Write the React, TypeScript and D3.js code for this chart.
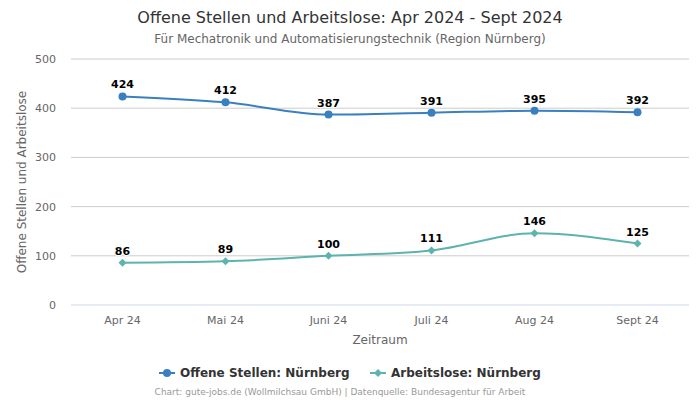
import React from "react";
import * as d3 from "d3";

const categories = ["Apr 24", "Mai 24", "Juni 24", "Juli 24", "Aug 24", "Sept 24"];
const offeneStellen = [424, 412, 387, 391, 395, 392];
const arbeitslose = [86, 89, 100, 111, 146, 125];
const yTicks = [0, 100, 200, 300, 400, 500];

const W = 700, H = 400;
const left = 71, right = 689, top = 59, bottom = 305;
const FONT = "DejaVu Sans, sans-serif";
const BLUE = "#3a80c0";
const TEAL = "#5db3ad";

export default function App() {
  const x = d3.scaleBand<string>().domain(categories).range([left, right]);
  const y = d3.scaleLinear().domain([0, 500]).range([bottom, top]);
  const cx = (c: string) => (x(c) as number) + x.bandwidth() / 2;
  const line = d3
    .line<number>()
    .x((_, i) => cx(categories[i]))
    .y((d) => y(d))
    .curve(d3.curveMonotoneX);

  const diamond = (px: number, py: number, r = 4) =>
    `M${px},${py - r}L${px + r},${py}L${px},${py + r}L${px - r},${py}Z`;

  return (
    <svg width={W} height={H} style={{ position: "absolute", left: 0, top: 0 }} fontFamily={FONT}>
      <rect width={W} height={H} fill="#fff" />
      <text x={350} y={23} textAnchor="middle" fontSize={16} fill="#333">
        Offene Stellen und Arbeitslose: Apr 2024 - Sept 2024
      </text>
      <text x={350} y={43} textAnchor="middle" fontSize={12} fill="#666">
        Für Mechatronik und Automatisierungstechnik (Region Nürnberg)
      </text>
      {yTicks.map((t) => (
        <g key={t}>
          <line x1={left} x2={right} y1={y(t)} y2={y(t)} stroke={t === 0 ? "#ccd6eb" : "#cccccc"} strokeWidth={1} />
          <text x={56} y={y(t) + 4} textAnchor="end" fontSize={11} fill="#666">
            {t}
          </text>
        </g>
      ))}
      {categories.map((c) => (
        <text key={c} x={cx(c)} y={324} textAnchor="middle" fontSize={11} fill="#666">
          {c}
        </text>
      ))}
      <text x={380} y={344} textAnchor="middle" fontSize={12} fill="#666">
        Zeitraum
      </text>
      <text transform={`translate(26,${(top + bottom) / 2}) rotate(-90)`} textAnchor="middle" fontSize={12} fill="#666">
        Offene Stellen und Arbeitslose
      </text>

      <path d={line(offeneStellen) || ""} fill="none" stroke={BLUE} strokeWidth={2} />
      <path d={line(arbeitslose) || ""} fill="none" stroke={TEAL} strokeWidth={2} />
      {offeneStellen.map((v, i) => (
        <g key={"o" + i}>
          <circle cx={cx(categories[i])} cy={y(v)} r={4} fill={BLUE} />
          <text x={cx(categories[i])} y={y(v) - 8} textAnchor="middle" fontSize={11} fontWeight="bold" fill="#000" stroke="#fff" strokeWidth={2} paintOrder="stroke">
            {v}
          </text>
        </g>
      ))}
      {arbeitslose.map((v, i) => (
        <g key={"a" + i}>
          <path d={diamond(cx(categories[i]), y(v))} fill={TEAL} />
          <text x={cx(categories[i])} y={y(v) - 8} textAnchor="middle" fontSize={11} fontWeight="bold" fill="#000" stroke="#fff" strokeWidth={2} paintOrder="stroke">
            {v}
          </text>
        </g>
      ))}

      <g>
        <line x1={159} x2={175} y1={373} y2={373} stroke={BLUE} strokeWidth={2} />
        <circle cx={167} cy={373} r={4} fill={BLUE} />
        <text x={180} y={377} fontSize={12} fontWeight="bold" fill="#333">
          Offene Stellen: Nürnberg
        </text>
        <line x1={370} x2={386} y1={373} y2={373} stroke={TEAL} strokeWidth={2} />
        <path d={diamond(378, 373)} fill={TEAL} />
        <text x={391} y={377} fontSize={12} fontWeight="bold" fill="#333">
          Arbeitslose: Nürnberg
        </text>
      </g>
      <text x={340} y={395} textAnchor="middle" fontSize={9} fill="#999">
        Chart: gute-jobs.de (Wollmilchsau GmbH) | Datenquelle: Bundesagentur für Arbeit
      </text>
    </svg>
  );
}
